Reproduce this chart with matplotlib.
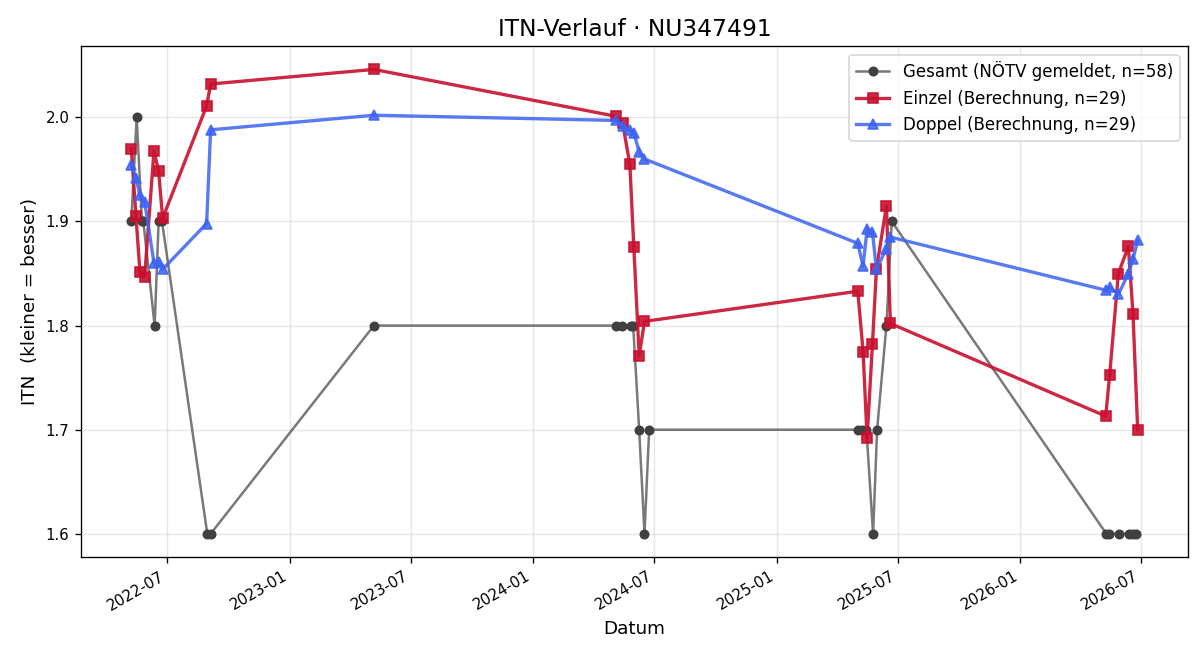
import matplotlib
matplotlib.use("Agg")
import matplotlib.pyplot as plt
import matplotlib.dates as mdates
import pandas as pd

## data
gesamt_dates = ['2022-05-08','2022-05-16','2022-05-24','2022-05-26','2022-06-12','2022-06-18','2022-06-23',
                '2022-08-30','2022-09-04','2023-05-07',
                '2024-05-04','2024-05-13','2024-05-26','2024-05-30','2024-06-08','2024-06-16','2024-06-23',
                '2025-05-03','2025-05-09','2025-05-15','2025-05-25','2025-05-31','2025-06-14','2025-06-22',
                '2026-05-10','2026-05-14','2026-05-29','2026-06-13','2026-06-19','2026-06-24']
gesamt_itn = [1.9, 2.0, 1.9, 1.9, 1.8, 1.9, 1.9,
              1.6, 1.6, 1.8,
              1.8, 1.8, 1.8, 1.8, 1.7, 1.6, 1.7,
              1.7, 1.7, 1.7, 1.6, 1.7, 1.8, 1.9,
              1.6, 1.6, 1.6, 1.6, 1.6, 1.6]

calc_dates = ['2022-05-08','2022-05-15','2022-05-21','2022-05-28','2022-06-11','2022-06-18','2022-06-24',
              '2022-08-29','2022-09-04','2023-05-07',
              '2024-05-04','2024-05-14','2024-05-25','2024-05-31','2024-06-08','2024-06-16',
              '2025-05-02','2025-05-10','2025-05-16','2025-05-24','2025-05-30','2025-06-14','2025-06-20',
              '2026-05-09','2026-05-15','2026-05-28','2026-06-12','2026-06-19','2026-06-26']
einzel_itn = [1.970, 1.905, 1.851, 1.847, 1.968, 1.948, 1.903,
              2.011, 2.032, 2.046,
              2.001, 1.995, 1.955, 1.875, 1.771, 1.804,
              1.833, 1.775, 1.692, 1.782, 1.854, 1.915, 1.802,
              1.713, 1.753, 1.850, 1.876, 1.811, 1.700]
doppel_itn = [1.954, 1.942, 1.925, 1.919, 1.860, 1.861, 1.854,
              1.898, 1.988, 2.002,
              1.997, 1.992, 1.988, 1.985, 1.967, 1.960,
              1.879, 1.857, 1.893, 1.890, 1.854, 1.874, 1.885,
              1.834, 1.837, 1.830, 1.850, 1.864, 1.882]

gd = pd.to_datetime(gesamt_dates)
cd = pd.to_datetime(calc_dates)

fig, ax = plt.subplots(figsize=(10, 5.5), dpi=120)

# gray line, solid dark markers
ax.plot(gd, gesamt_itn, color=(0.25, 0.25, 0.25, 0.7), marker='o', markersize=5,
        markerfacecolor='#404040', markeredgecolor='#404040', linewidth=1.5,
        label='Gesamt (NÖTV gemeldet, n=58)')
ax.plot(cd, einzel_itn, color='#c8102e', alpha=0.9, marker='s', markersize=6, linewidth=2,
        label='Einzel (Berechnung, n=29)')
ax.plot(cd, doppel_itn, color='#3d63f2', alpha=0.85, marker='^', markersize=6, linewidth=2,
        label='Doppel (Berechnung, n=29)')

ax.set_title('ITN-Verlauf · NU347491', fontsize=14)
ax.set_xlabel('Datum', fontsize=11)
ax.set_ylabel('ITN  (kleiner = besser)', fontsize=11)
ax.grid(True, alpha=0.3)
ax.legend(loc='upper right', fontsize=10)

ax.xaxis.set_major_locator(mdates.MonthLocator(bymonth=[1, 7]))
ax.xaxis.set_major_formatter(mdates.DateFormatter('%Y-%m'))
ax.tick_params(labelsize=9)
fig.autofmt_xdate()

fig.subplots_adjust(left=0.0675, right=0.99, top=0.930, bottom=0.156)
fig.savefig('out.png')
